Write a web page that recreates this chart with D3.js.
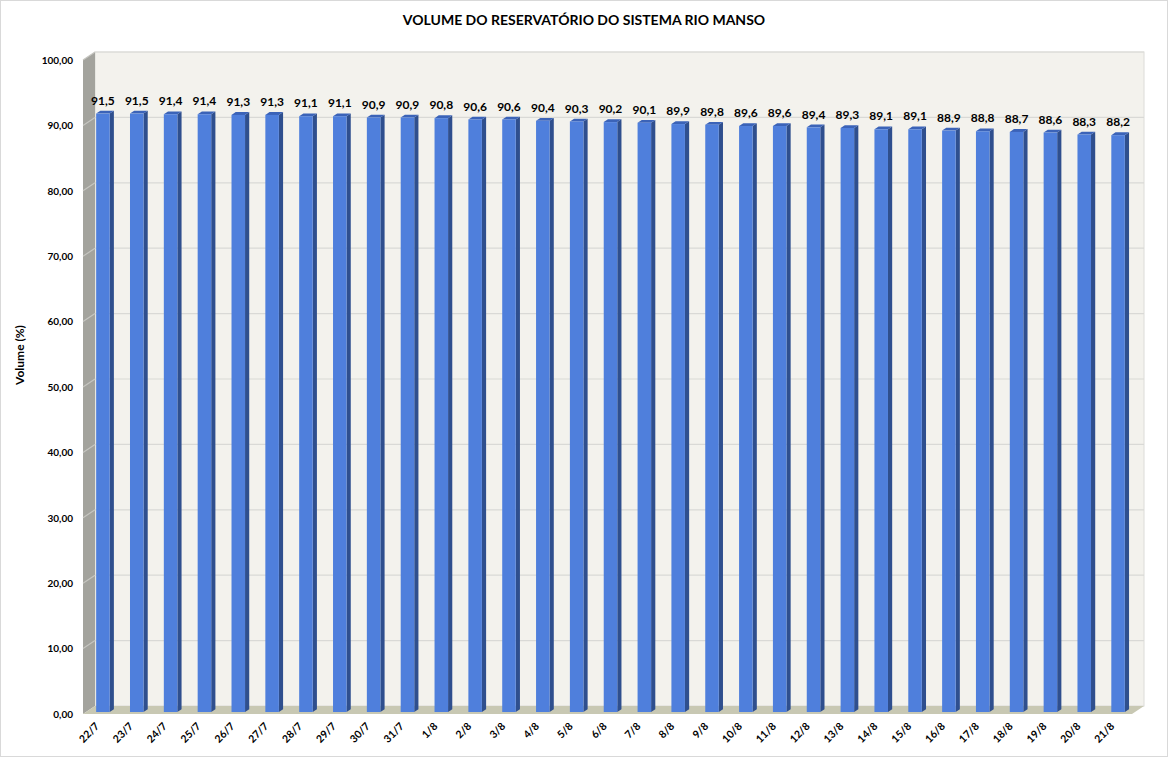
<!DOCTYPE html>
<html>
<head>
<meta charset="utf-8">
<script src="https://cdn.jsdelivr.net/npm/d3@7"></script>
<style>
  body { margin: 0; background: #fff; }
  svg { display: block; font-family: Lato, "Open Sans", sans-serif; }
</style>
</head>
<body>
<svg id="chart" width="1168" height="757"></svg>
<script>
// 3D-style column chart: reservoir volume per day.

const dates = [
  "22/7", "23/7", "24/7", "25/7", "26/7", "27/7", "28/7", "29/7", "30/7", "31/7",
  "1/8", "2/8", "3/8", "4/8", "5/8", "6/8", "7/8", "8/8", "9/8", "10/8",
  "11/8", "12/8", "13/8", "14/8", "15/8", "16/8", "17/8", "18/8", "19/8", "20/8", "21/8"
];

const volumes = [
  91.5, 91.5, 91.4, 91.4, 91.3, 91.3, 91.1, 91.1, 90.9, 90.9,
  90.8, 90.6, 90.6, 90.4, 90.3, 90.2, 90.1, 89.9, 89.8, 89.6,
  89.6, 89.4, 89.3, 89.1, 89.1, 88.9, 88.8, 88.7, 88.6, 88.3, 88.2
];

const yTicks = [0, 10, 20, 30, 40, 50, 60, 70, 80, 90, 100];

const title = "VOLUME DO RESERVATÓRIO DO SISTEMA RIO MANSO";
const yTitle = "Volume (%)";

const svg = d3.select("#chart");
const W = 1168, H = 757;

// front plane of the plot and the depth offset of the back wall
const plot = { left: 83, right: 1132, top: 60, bottom: 714 };
const depth = { dx: 12, dy: -8 };

const x = d3.scaleBand().domain(dates).range([plot.left, plot.right]).padding(0);
const y = d3.scaleLinear().domain([0, 100]).range([plot.bottom, plot.top]);

const comma = v => v.toFixed(2).replace(".", ",");
const comma1 = v => v.toFixed(1).replace(".", ",");

// outer frame
svg.append("rect")
  .attr("x", 0.5).attr("y", 0.5)
  .attr("width", W - 1).attr("height", H - 1)
  .attr("fill", "#fff")
  .attr("stroke", "#d9d9d9");

// back wall
svg.append("rect")
  .attr("x", plot.left + depth.dx)
  .attr("y", plot.top + depth.dy)
  .attr("width", plot.right - plot.left)
  .attr("height", plot.bottom - plot.top)
  .attr("fill", "#f3f2ed")
  .attr("stroke", "#dcdcd8")
  .attr("stroke-width", 1);

// left side wall
svg.append("path")
  .attr("d", `M${plot.left},${y(0)} L${plot.left},${y(100)}
              L${plot.left + depth.dx},${y(100) + depth.dy}
              L${plot.left + depth.dx},${y(0) + depth.dy} Z`)
  .attr("fill", "#a3a39d");

// floor
svg.append("path")
  .attr("d", `M${plot.left},${y(0)} L${plot.right},${y(0)}
              L${plot.right + depth.dx},${y(0) + depth.dy}
              L${plot.left + depth.dx},${y(0) + depth.dy} Z`)
  .attr("fill", "#c8c8b3");

// gridlines on back wall and side wall
const grid = svg.append("g");
yTicks.filter(t => t > 0).forEach(t => {
  grid.append("line")
    .attr("x1", plot.left + depth.dx).attr("x2", plot.right + depth.dx)
    .attr("y1", y(t) + depth.dy).attr("y2", y(t) + depth.dy)
    .attr("stroke", t === 100 ? "#dcdcd8" : "#d9d9d6")
    .attr("stroke-width", 1.2);
  grid.append("line")
    .attr("x1", plot.left).attr("x2", plot.left + depth.dx)
    .attr("y1", y(t)).attr("y2", y(t) + depth.dy)
    .attr("stroke", "#c6c6c1")
    .attr("stroke-width", 1.2);
});

// bars as simple boxes sitting between 25% and 60% of the depth
const bw = x.bandwidth() * 0.4;
const f0 = 0.25, f1 = 0.6;
const bars = svg.append("g").selectAll("g")
  .data(dates.map((d, i) => ({ date: d, value: volumes[i] })))
  .join("g");

function barGeom(d) {
  const cx = x(d.date) + x.bandwidth() / 2;
  const fx = cx - bw / 2 + depth.dx * f0;
  const fy0 = y(0) + depth.dy * f0;
  const fy1 = y(d.value) + depth.dy * f0;
  const ox = depth.dx * (f1 - f0), oy = depth.dy * (f1 - f0);
  return { fx, fy0, fy1, ox, oy };
}

bars.append("path")
  .attr("fill", "#2f4f8e")
  .attr("d", d => {
    const g = barGeom(d);
    return `M${g.fx + bw},${g.fy0} L${g.fx + bw},${g.fy1}
            L${g.fx + bw + g.ox},${g.fy1 + g.oy} L${g.fx + bw + g.ox},${g.fy0 + g.oy} Z`;
  });

bars.append("path")
  .attr("fill", "#3b63b8")
  .attr("d", d => {
    const g = barGeom(d);
    return `M${g.fx},${g.fy1} L${g.fx + bw},${g.fy1}
            L${g.fx + bw + g.ox},${g.fy1 + g.oy} L${g.fx + g.ox},${g.fy1 + g.oy} Z`;
  });

bars.append("rect")
  .attr("fill", "#4f7fdc")
  .attr("x", d => barGeom(d).fx)
  .attr("y", d => barGeom(d).fy1)
  .attr("width", bw)
  .attr("height", d => barGeom(d).fy0 - barGeom(d).fy1);

// value labels
bars.append("text")
  .attr("x", d => x(d.date) + x.bandwidth() / 2 + 3)
  .attr("y", d => y(d.value) + depth.dy * f1 - 6)
  .attr("text-anchor", "middle")
  .attr("font-size", 12)
  .attr("font-weight", "bold")
  .attr("fill", "#000")
  .text(d => comma1(d.value));

// y axis
const yAxis = svg.append("g")
  .attr("transform", `translate(${plot.left},0)`)
  .call(d3.axisLeft(y).tickValues(yTicks).tickFormat(comma).tickSize(0).tickPadding(10));
yAxis.select(".domain").remove();
yAxis.selectAll("text")
  .attr("font-family", "Lato, sans-serif")
  .attr("font-size", 10)
  .attr("font-weight", "bold")
  .attr("fill", "#000");

// x axis
const xAxis = svg.append("g")
  .attr("transform", `translate(0,${plot.bottom})`)
  .call(d3.axisBottom(x).tickSize(0).tickPadding(0));
xAxis.select(".domain").remove();
xAxis.selectAll("text")
  .attr("font-family", "Lato, sans-serif")
  .attr("font-size", 10.5)
  .attr("font-weight", "bold")
  .attr("fill", "#000")
  .attr("text-anchor", "end")
  .attr("dy", null)
  .attr("y", 0)
  .attr("transform", "translate(0,13) rotate(-45)");

// titles
svg.append("text")
  .attr("x", 584).attr("y", 25)
  .attr("text-anchor", "middle")
  .attr("font-size", 14)
  .attr("font-weight", "bold")
  .text(title);

svg.append("text")
  .attr("transform", "translate(24,355) rotate(-90)")
  .attr("text-anchor", "middle")
  .attr("font-size", 12)
  .attr("font-weight", "bold")
  .text(yTitle);
</script>
</body>
</html>
